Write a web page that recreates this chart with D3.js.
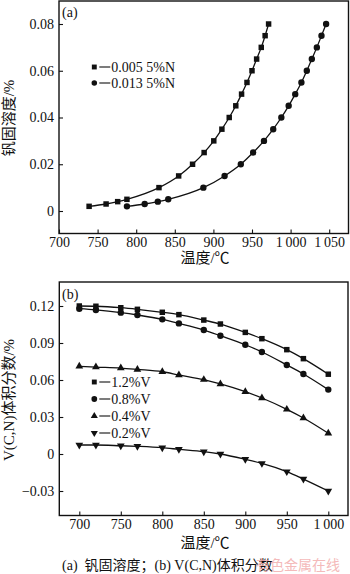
<!DOCTYPE html>
<html><head><meta charset="utf-8">
<script src="https://cdn.jsdelivr.net/npm/d3@7/dist/d3.min.js"></script>
<style>
html,body{margin:0;padding:0;background:#fff;}
text{font-family:"Liberation Serif","Times New Roman","Noto Sans CJK SC",serif;fill:#111;}
</style></head>
<body>
<svg id="c" width="350" height="574"></svg>
<script>
// ---- Data: panel (a) ----
const seriesA_names = ["0.005 5%N", "0.013 5%N"];
const tempA1 = [739, 761, 776, 788, 829.5, 855, 873, 888, 900.5, 911, 920.5, 929, 936.5, 943.5, 950, 956, 962, 967, 971.5];
const solA1  = [0.002, 0.003, 0.004, 0.005, 0.010, 0.015, 0.020, 0.025, 0.030, 0.035, 0.040, 0.045, 0.050, 0.055, 0.060, 0.065, 0.070, 0.075, 0.080];
const tempA2 = [788, 811, 828, 841.5, 887, 914.5, 935.5, 951.5, 965.5, 977.5, 988, 997.5, 1006, 1014, 1021, 1027.5, 1034, 1040, 1046];
const solA2  = [0.002, 0.003, 0.004, 0.005, 0.010, 0.015, 0.020, 0.025, 0.030, 0.035, 0.040, 0.045, 0.050, 0.055, 0.060, 0.065, 0.070, 0.075, 0.080];
const ticksAx = [700, 750, 800, 850, 900, 950, 1000, 1050];
const ticksAy = [0, 0.02, 0.04, 0.06, 0.08];

// ---- Data: panel (b) ----
const seriesB_names = ["1.2%V", "0.8%V", "0.4%V", "0.2%V"];
const tempB = [700, 720, 750, 770, 800, 820, 850, 870, 900, 920, 950, 970, 1000];
const vfB12 = [0.1200, 0.1198, 0.1186, 0.1173, 0.1149, 0.1130, 0.1086, 0.1054, 0.0986, 0.0935, 0.0846, 0.0773, 0.0647];
const vfB08 = [0.1178, 0.1168, 0.1146, 0.1127, 0.1092, 0.1059, 0.1005, 0.0959, 0.0886, 0.0827, 0.0722, 0.0649, 0.0522];
const vfB04 = [0.0711, 0.0705, 0.0697, 0.0686, 0.0667, 0.0641, 0.0603, 0.0568, 0.0505, 0.0454, 0.0362, 0.0292, 0.0168];
const vfB02 = [0.0073, 0.0073, 0.0067, 0.0062, 0.0051, 0.0038, 0.0019, 0.0000, -0.0043, -0.0076, -0.0143, -0.0203, -0.0300];
const ticksBx = [700, 750, 800, 850, 900, 950, 1000];
const ticksBy = [-0.03, 0, 0.03, 0.06, 0.09, 0.12];

const fmtX = v => v >= 1000 ? (Math.floor(v/1000) + "\u2009" + String(v % 1000).padStart(3, "0")) : String(v);
const fmtY = v => v === 0 ? "0" : (v < 0 ? "\u22120" : "0") + d3.format(".2f")(Math.abs(v)).slice(1);

const svg = d3.select("#c");
const INK = "#111";

function panel(cfg) {
  const g = svg.append("g");
  const x = d3.scaleLinear().domain(cfg.xd).range(cfg.xr);
  const y = d3.scaleLinear().domain(cfg.yd).range(cfg.yr);
  const f = cfg.frame; // [left, top, right, bottom]
  g.append("rect").attr("x", f[0]).attr("y", f[1]).attr("width", f[2]-f[0]).attr("height", f[3]-f[1])
    .attr("fill", "none").attr("stroke", INK).attr("stroke-width", 1.4);
  const xa = g.append("g").attr("transform", `translate(0,${f[3]})`)
    .call(d3.axisBottom(x).tickValues(cfg.xt).tickSizeInner(-4).tickSizeOuter(0).tickPadding(3).tickFormat(fmtX));
  xa.select(".domain").remove();
  xa.selectAll("line").attr("stroke", INK).attr("stroke-width", 1.1);
  xa.selectAll("text").attr("font-size", 14).attr("fill", INK).attr("dy", "0.75em");
  const ya = g.append("g").attr("transform", `translate(${f[0]},0)`)
    .call(d3.axisLeft(y).tickValues(cfg.yt).tickSizeInner(-4).tickSizeOuter(0).tickPadding(5).tickFormat(fmtY));
  ya.select(".domain").remove();
  ya.selectAll("line").attr("stroke", INK).attr("stroke-width", 1.1);
  ya.selectAll("text").attr("font-size", 14).attr("fill", INK);
  const line = d3.line().x(d => x(d[0])).y(d => y(d[1])).curve(d3.curveMonotoneX);
  cfg.series.forEach(s => {
    const pts = s.xs.map((t, i) => [t, s.ys[i]]);
    g.append("path").datum(pts).attr("d", line).attr("fill", "none").attr("stroke", INK).attr("stroke-width", 1.3);
    g.selectAll(null).data(pts).enter().append("path")
      .attr("d", d3.symbol().type(s.sym).size(s.size))
      .attr("fill", INK)
      .attr("transform", d => `translate(${x(d[0])},${y(d[1])})` + (s.rot ? " rotate(180)" : ""));
  });
  return {g, x, y};
}

panel({
  frame: [59, 1, 348.5, 233.5],
  xd: [750, 1050], xr: [97.6, 329.2],
  yd: [0, 0.08], yr: [211, 24],
  xt: ticksAx, yt: ticksAy,
  series: [
    {xs: tempA1, ys: solA1, sym: d3.symbolSquare, size: 30},
    {xs: tempA2, ys: solA2, sym: d3.symbolCircle, size: 32}
  ]
});
panel({
  frame: [59.3, 282, 348, 515.5],
  xd: [700, 1000], xr: [79.3, 328.3],
  yd: [-0.03, 0.12], yr: [491, 306],
  xt: ticksBx, yt: ticksBy,
  series: [
    {xs: tempB, ys: vfB12, sym: d3.symbolSquare, size: 30},
    {xs: tempB, ys: vfB08, sym: d3.symbolCircle, size: 32},
    {xs: tempB, ys: vfB04, sym: d3.symbolTriangle, size: 26},
    {xs: tempB, ys: vfB02, sym: d3.symbolTriangle, size: 26, rot: true}
  ]
});

function legend(items, x0, y0, dy) {
  items.forEach((it, i) => {
    const yy = y0 + i*dy;
    svg.append("path").attr("d", d3.symbol().type(it.sym).size(it.size)())
      .attr("transform", `translate(${x0},${yy})` + (it.rot ? " rotate(180)" : "")).attr("fill", INK);
    svg.append("line").attr("x1", x0+5).attr("x2", x0+16).attr("y1", yy).attr("y2", yy)
      .attr("stroke", INK).attr("stroke-width", 1.1);
    svg.append("text").attr("x", x0+17).attr("y", yy).attr("dy", "0.35em").attr("font-size", 14).text(it.name);
  });
}
legend([
  {name: seriesA_names[0], sym: d3.symbolSquare, size: 24},
  {name: seriesA_names[1], sym: d3.symbolCircle, size: 24}
], 94.3, 67, 16);
legend([
  {name: seriesB_names[0], sym: d3.symbolSquare, size: 24},
  {name: seriesB_names[1], sym: d3.symbolCircle, size: 26},
  {name: seriesB_names[2], sym: d3.symbolTriangle, size: 22},
  {name: seriesB_names[3], sym: d3.symbolTriangle, size: 22, rot: true}
], 94.3, 382, 17);

svg.append("text").attr("x", 62).attr("y", 17).attr("font-size", 14).text("(a)");
svg.append("text").attr("x", 62).attr("y", 299).attr("font-size", 14).text("(b)");

svg.append("text").attr("x", 205).attr("y", 263).attr("text-anchor", "middle").attr("font-size", 15).text("温度/℃");
svg.append("text").attr("x", 205).attr("y", 548).attr("text-anchor", "middle").attr("font-size", 15).text("温度/℃");
svg.append("text").attr("transform", "translate(14,118) rotate(-90)").attr("text-anchor", "middle").attr("font-size", 15).text("钒固溶度/%");
svg.append("text").attr("transform", "translate(14,400) rotate(-90)").attr("text-anchor", "middle").attr("font-size", 15).text("V(C,N)体积分数/%");

svg.append("text").attr("x", 62).attr("y", 570).attr("font-size", 14).attr("xml:space", "preserve").text("(a)  钒固溶度；(b) V(C,N)体积分数");
svg.append("text").attr("x", 256).attr("y", 570).attr("font-size", 14)
  .style("font-family", "'Noto Sans CJK SC',sans-serif").style("fill", "#f2a9a9").attr("opacity", 0.8).text("有色金属在线");
</script>
</body></html>
